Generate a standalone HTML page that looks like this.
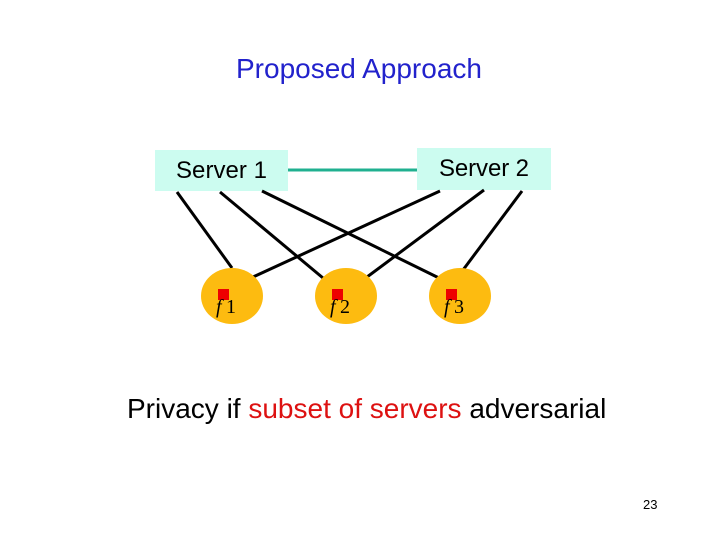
<!DOCTYPE html>
<html><head><style>
body{margin:0;width:720px;height:540px;background:#fff;position:relative;overflow:hidden;font-family:"Liberation Sans",sans-serif}
.t{position:absolute;white-space:nowrap}
</style></head><body>
<div class="t" style="left:236px;top:53px;font-size:28px;color:#2222cc;transform-origin:0 0">Proposed Approach</div>
<svg width="720" height="540" style="position:absolute;left:0;top:0">
<rect x="155" y="150" width="133" height="41" fill="#ccfcf0"/>
<rect x="417" y="148" width="134" height="42" fill="#ccfcf0"/>
<line x1="288" y1="170" x2="417" y2="170" stroke="#20b090" stroke-width="3"/>
<g stroke="#000" stroke-width="3">
<line x1="177" y1="192" x2="232" y2="268"/>
<line x1="220" y1="192" x2="323" y2="278"/>
<line x1="262" y1="191" x2="439" y2="278"/>
<line x1="440" y1="191" x2="253" y2="277"/>
<line x1="484" y1="190" x2="367" y2="277"/>
<line x1="522" y1="191" x2="463" y2="270"/>
</g>
<g fill="#fdbb10">
<ellipse cx="232" cy="296" rx="31" ry="28"/>
<ellipse cx="346" cy="296" rx="31" ry="28"/>
<ellipse cx="460" cy="296" rx="31" ry="28"/>
</g>
<g fill="#ee0000">
<rect x="218" y="289" width="11" height="11"/>
<rect x="332" y="289" width="11" height="11"/>
<rect x="446" y="289" width="11" height="11"/>
</g>
<g font-family="Liberation Serif" font-size="20" fill="#000">
<text x="216" y="313" font-style="italic">f</text><text x="226" y="313">1</text>
<text x="330" y="313" font-style="italic">f</text><text x="340" y="313">2</text>
<text x="444" y="313" font-style="italic">f</text><text x="454" y="313">3</text>
</g>
<g font-family="Liberation Sans" font-size="24" fill="#000">
<text x="176" y="178" textLength="91">Server 1</text>
<text x="439" y="176" textLength="90">Server 2</text>
</g>
</svg>
<div class="t" style="left:127px;top:393px;font-size:28px;color:#000">Privacy if <span style="color:#dd1111">subset of servers</span> adversarial</div>
<div class="t" style="left:643px;top:497px;font-size:13px;color:#000">23</div>
</body></html>
